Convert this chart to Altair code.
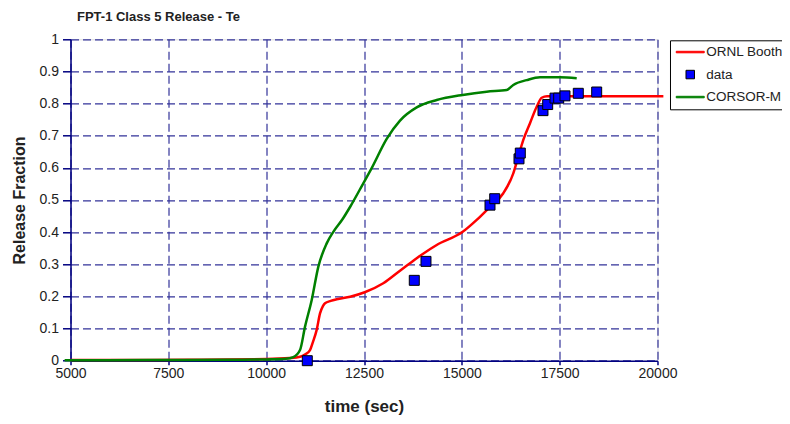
import altair as alt
import pandas as pd

# ---- data ----
ornl_t = [5000, 8000, 10000, 10600, 10865, 11000, 11120, 11200, 11291, 11376, 11450, 11504,
          11650, 11802, 12147, 12518, 12993, 13420, 13847, 14358, 15022, 15380, 15720, 16060,
          16315, 16443, 16571, 16742, 16913, 17041, 17177, 18000, 19000, 20150]
ornl_v = [0.002, 0.003, 0.005, 0.008, 0.012, 0.02, 0.033, 0.06, 0.096, 0.147, 0.17, 0.179,
          0.186, 0.191, 0.199, 0.213, 0.241, 0.28, 0.319, 0.36, 0.401, 0.438, 0.479, 0.521,
          0.583, 0.635, 0.687, 0.739, 0.79, 0.818, 0.823, 0.823, 0.823, 0.823]

corsor_t = [4850, 7000, 9000, 10000, 10500, 10693, 10865, 10993, 11164, 11332, 11547, 11716,
            11950, 12147, 12482, 12700, 13080, 13420, 13847, 14358, 15022, 15635, 16147, 16315,
            16657, 16998, 17509, 17936]
corsor_v = [0.001, 0.002, 0.003, 0.004, 0.006, 0.011, 0.033, 0.106, 0.189, 0.292, 0.365, 0.401,
            0.44, 0.479, 0.552, 0.6, 0.69, 0.747, 0.788, 0.811, 0.827, 0.837, 0.842, 0.858,
            0.873, 0.882, 0.882, 0.879]

data_t = [11051, 13785, 14084, 15720, 15840, 16461, 16494, 17074, 17194, 17381, 17475, 17636,
          17976, 18446]
data_v = [0.0, 0.250, 0.309, 0.484, 0.504, 0.628, 0.646, 0.778, 0.797, 0.817, 0.817, 0.824,
          0.832, 0.836]

series_names = ["ORNL Booth", "data", "CORSOR-M"]
series_fill = ["#ff0000", "#0000ff", "#008000"]
series_stroke = ["#ff0000", "#000000", "#008000"]
series_shape = ["M-2.8,-0.15H2.8V0.15H-2.8Z", "M-0.85,-0.85H0.85V0.85H-0.85Z",
                "M-2.8,-0.15H2.8V0.15H-2.8Z"]

x_ticks = [5000, 7500, 10000, 12500, 15000, 17500, 20000]
y_ticks = [0, 0.1, 0.2, 0.3, 0.4, 0.5, 0.6, 0.7, 0.8, 0.9, 1]

ornl_df = pd.DataFrame({"time": ornl_t, "value": ornl_v})
corsor_df = pd.DataFrame({"time": corsor_t, "value": corsor_v})
data_df = pd.DataFrame({"time": data_t, "value": data_v, "series": "data"})

FONT = "Liberation Sans"
NAVY = "#000080"
GRID = "#333399"

xscale = alt.Scale(domain=[5000, 20000], nice=False, zero=False)
yscale = alt.Scale(domain=[0, 1], nice=False)

xaxis = alt.Axis(values=x_ticks, format="d", grid=True, gridDash=[8, 4], gridColor=GRID,
                 gridWidth=1.2, domainColor=NAVY, domainWidth=1.5, tickColor=NAVY,
                 tickSize=4, tickWidth=1.5, labelFont=FONT, labelFontSize=14,
                 labelColor="#222222", labelPadding=2, title="time (sec)", titleFont=FONT,
                 titleFontSize=17, titleFontWeight="bold", titleColor="#222222",
                 titlePadding=18, labelFlush=False)
yaxis = alt.Axis(values=y_ticks, format="~g", grid=True, gridDash=[8, 4], gridColor=GRID,
                 gridWidth=1.2, domainColor=NAVY, domainWidth=1.5, tickColor=NAVY,
                 tickSize=8, tickWidth=1.5, labelFont=FONT, labelFontSize=14,
                 labelColor="#222222", labelPadding=4, title="Release Fraction",
                 titleFont=FONT, titleFontSize=16, titleFontWeight="bold",
                 titleColor="#222222", titlePadding=12, labelFlush=False)

leg = alt.Legend(title=None, orient="none", legendX=599.5, legendY=1, fillColor="white",
                 strokeColor="black", padding=5, rowPadding=7.5, symbolSize=100,
                 symbolStrokeWidth=1, symbolOffset=8.5, labelOffset=9.2, labelFont=FONT,
                 labelFontSize=13.5, labelColor="#222222")

red = alt.Chart(ornl_df).mark_line(color="#ff0000", strokeWidth=2.5, interpolate="monotone").encode(
    x=alt.X("time:Q", scale=xscale, axis=xaxis),
    y=alt.Y("value:Q", scale=yscale, axis=yaxis),
)
green = alt.Chart(corsor_df).mark_line(color="#008000", strokeWidth=2.5, interpolate="monotone").encode(
    x=alt.X("time:Q", scale=xscale, axis=xaxis),
    y=alt.Y("value:Q", scale=yscale, axis=yaxis),
)
pts = alt.Chart(data_df).mark_point(filled=True, size=138, strokeWidth=1, opacity=1).encode(
    x=alt.X("time:Q", scale=xscale, axis=xaxis),
    y=alt.Y("value:Q", scale=yscale, axis=yaxis),
    color=alt.Color("series:N", scale=alt.Scale(domain=series_names, range=series_fill), legend=leg),
    stroke=alt.Stroke("series:N", scale=alt.Scale(domain=series_names, range=series_stroke), legend=leg),
    shape=alt.Shape("series:N", scale=alt.Scale(domain=series_names, range=series_shape), legend=leg),
)

chart = alt.layer(red, green, pts).properties(
    width=587, height=321.4,
    title=alt.TitleParams("FPT-1 Class 5 Release - Te", anchor="start", frame="group",
                          font=FONT, fontSize=13, fontWeight="bold", color="#222222",
                          dx=6.5, offset=8),
    autosize=alt.AutoSizeParams(type="none"),
    padding={"left": 62.5, "top": 31.3, "right": 124.5, "bottom": 55},
).configure_view(stroke=NAVY, strokeWidth=1.5).configure(background="white")

chart.save("out.html", embed_options={"renderer": "svg", "actions": False})
